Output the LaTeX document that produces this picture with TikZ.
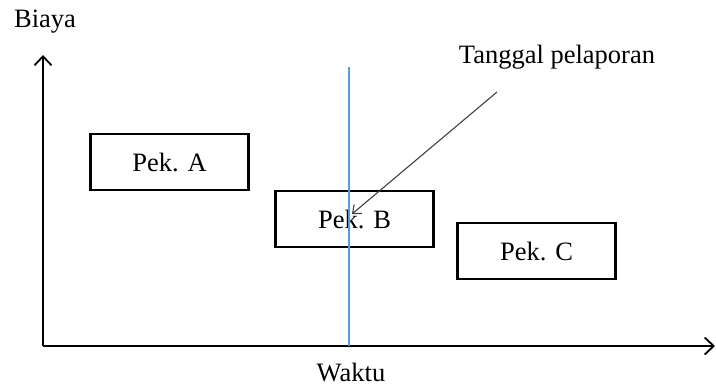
\documentclass[tikz,border=0pt]{standalone}
\usepackage{fontspec}
\setmainfont{Liberation Serif}
\usetikzlibrary{arrows.meta}
\definecolor{lineblue}{HTML}{5B9BD5}
\begin{document}
\begin{tikzpicture}[x=1pt,y=-1pt,
  lbl/.style={font=\fontsize{26.5}{30}\selectfont, inner sep=0pt},
  pekbox/.style={draw=black, line width=2.2pt, minimum width=158pt, minimum height=56pt, inner sep=0pt, font=\fontsize{26.5}{30}\selectfont},
  axis/.style={line width=2.2pt, -{Straight Barb[length=9pt,width=17pt,line width=1.8pt]}},
]
\useasboundingbox (0,0) rectangle (716,389);
% axes
\coordinate (O) at (43,346);
\coordinate (ytop) at (43,55);
\coordinate (xend) at (715,346);
\draw[axis] (O) -- (ytop);
\draw[axis] (O) -- (xend);
% labels
\node[lbl] (biaya) at (45,22) {Biaya};
\node[lbl] (waktu) at (351,373) {Waktu};
\node[lbl] (tgl) at (557,57) {Tanggal pelaporan};
% boxes
\node[pekbox] (A) at (169.5,162) {Pek. A};
\node[pekbox] (B) at (354.5,219) {Pek. B};
\node[pekbox] (C) at (536.5,251) {Pek. C};
% reporting date line
\coordinate (vtop) at (349,67);
\coordinate (vbot) at (349,346);
\draw[lineblue, line width=1.8pt] (vtop) -- (vbot);
% pointer arrow
\coordinate (ps) at (497,92);
\coordinate (pt) at (352,214);
\draw[black!75, line width=1.1pt, -{Straight Barb[length=7pt,width=12pt,line width=1.1pt]}] (ps) -- (pt);
\end{tikzpicture}
\end{document}
